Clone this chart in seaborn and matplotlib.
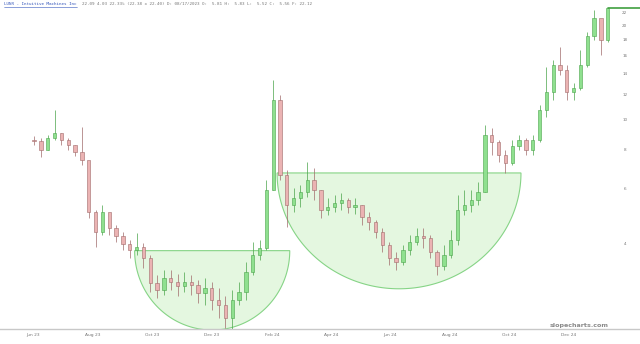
import numpy as np
import pandas as pd
import matplotlib
matplotlib.use("Agg")
import matplotlib.pyplot as plt
import matplotlib.dates as mdates
from matplotlib.lines import Line2D
import seaborn as sns

# ---- data (weekly candles) ----
ticker_title = "LUNR - Intuitive Machines Inc"
header_info = "22.09 4.03 22.33% (22.38 x 22.40) D: 08/17/2023 O:  5.81 H:  5.83 L:  5.52 C:  5.56 F: 22.12"
week_start = "2023-06-02"
first_open = 8.6
closes = [8.5, 7.97, 8.7, 9.0, 8.6, 8.27, 7.85, 7.40, 5.03, 4.34,
          5.03, 4.47, 4.21, 3.97, 3.80, 3.88, 3.58, 2.97, 2.82, 3.09,
          3.00, 2.91, 3.00, 2.93, 2.76, 2.87, 2.62, 2.53, 2.30, 2.62,
          2.78, 3.23, 3.66, 3.85, 5.93, 11.5, 6.62, 5.30, 5.58, 5.84,
          6.38, 5.93, 5.11, 5.22, 5.38, 5.50, 5.22, 5.30, 4.85, 4.67,
          4.34, 3.94, 3.58, 3.48, 3.80, 4.03, 4.21, 4.15, 3.74, 3.37,
          3.66, 4.09, 5.11, 5.30, 5.50, 5.84, 8.9, 8.45, 7.68, 7.24,
          8.2, 8.6, 7.97, 8.6, 10.7, 12.2, 15.0, 14.4, 12.2, 12.6,
          15.0, 18.5, 21.2, 18.0, 22.8]
highs = [8.84, 8.7, 8.9, 10.7, 9.0, 8.7, 8.27, 9.45, 7.13, 5.11,
         5.30, 4.92, 4.57, 4.34, 4.09, 4.31, 4.0, 3.66, 3.16, 3.27,
         3.27, 3.18, 3.23, 3.16, 3.04, 3.09, 3.00, 2.87, 2.70, 2.82,
         3.00, 3.48, 4.03, 4.09, 6.38, 13.4, 12.0, 6.87, 6.01, 6.15,
         7.29, 6.97, 5.93, 5.58, 5.71, 5.80, 5.58, 5.58, 5.30, 5.03,
         4.74, 4.47, 4.03, 3.74, 3.94, 4.24, 4.47, 4.47, 4.24, 3.80,
         3.94, 4.40, 5.71, 5.93, 5.93, 6.29, 9.6, 9.4, 8.6, 7.97,
         8.6, 8.9, 8.7, 8.9, 11.1, 14.7, 15.5, 17.1, 15.0, 13.1,
         16.7, 19.1, 22.5, 19.7, 22.8]
lows = [8.27, 7.56, 7.97, 8.6, 8.27, 7.97, 7.62, 7.13, 4.81, 3.88,
        4.24, 4.24, 4.03, 3.80, 3.58, 3.66, 3.32, 2.78, 2.66, 2.72,
        2.82, 2.70, 2.78, 2.72, 2.56, 2.53, 2.43, 2.30, 2.13, 2.08,
        2.53, 2.62, 3.16, 3.53, 3.80, 5.93, 6.38, 4.50, 5.03, 5.22,
        5.62, 5.50, 4.81, 4.92, 5.03, 5.11, 5.00, 4.96, 4.57, 4.40,
        4.15, 3.74, 3.40, 3.27, 3.40, 3.66, 3.94, 3.85, 3.58, 3.16,
        3.27, 3.58, 3.94, 4.92, 5.03, 5.30, 5.84, 7.68, 7.29, 6.72,
        7.13, 7.97, 7.68, 7.68, 8.45, 10.2, 11.5, 13.9, 11.5, 11.5,
        12.4, 14.7, 18.0, 16.1, 17.7]
last_price = 22.8
last_line_end = "2025-02-12"

# cup annotations: (start, end, rim price, bottom price)
cup_starts = ["2023-09-13", "2024-02-06"]
cup_ends = ["2024-02-19", "2024-10-13"]
cup_rims = [3.78, 6.72]
cup_bottoms = [2.10, 2.85]

y_ticks = [4, 6, 8, 10, 12, 14, 16, 18, 20, 22]
x_tick_dates = ["2023-06-01", "2023-08-01", "2023-10-01", "2023-12-01", "2024-02-01",
                "2024-04-01", "2024-06-01", "2024-08-01", "2024-10-01", "2024-12-01"]
x_lim = ("2023-04-28", "2025-02-12")
y_lim = (2.116, 23.48)

# ---- build frame ----
dates = pd.date_range(week_start, periods=len(closes), freq="W-FRI")
opens = [first_open] + closes[:-1]
df = pd.DataFrame({"date": dates, "open": opens, "high": highs, "low": lows, "close": closes})
df["up"] = df["close"] >= df["open"]

sns.set_theme(style="white")
plt.rcParams["font.family"] = ["DejaVu Sans"]

fig = plt.figure(figsize=(6.4, 3.44), dpi=100)
ax = fig.add_axes([0.0, 15 / 344, 1.0, 325 / 344])
ax.set_facecolor("white")
ax.set_yscale("log")

# cups
for s, e, rim, bot in zip(cup_starts, cup_ends, cup_rims, cup_bottoms):
    s_n = mdates.date2num(pd.Timestamp(s))
    e_n = mdates.date2num(pd.Timestamp(e))
    mid, half = (s_n + e_n) / 2, (e_n - s_n) / 2
    th = np.linspace(0, np.pi, 200)
    xs = mid + half * np.cos(th)
    ys = rim * (bot / rim) ** np.sin(th)
    ax.fill(xs, ys, facecolor="#e4f7e0", edgecolor="#86d486", lw=0.8, zorder=1)

# candles
xd = mdates.date2num(df["date"])
up_face, up_edge = "#8fe08f", "#4aa44a"
dn_face, dn_edge = "#ebb3b3", "#a06a6a"
for xi, o, h, l, c, u in zip(xd, df["open"], df["high"], df["low"], df["close"], df["up"]):
    edge = up_edge if u else dn_edge
    face = up_face if u else dn_face
    ax.vlines(xi, l, h, color=edge, lw=0.5, zorder=3)
    lo, hi = min(o, c), max(o, c)
    ax.bar(xi, hi - lo, bottom=lo, width=3.4, color=face, edgecolor=edge, lw=0.4, zorder=4)

# last price line
lp = pd.DataFrame({"date": [df["date"].iloc[-1], pd.Timestamp(last_line_end)],
                   "price": [last_price, last_price]})
sns.lineplot(data=lp, x="date", y="price", ax=ax, color="#3f9f3f", lw=1.2, zorder=5)

ax.set_xlim(pd.Timestamp(x_lim[0]), pd.Timestamp(x_lim[1]))
ax.set_ylim(*y_lim)
ax.set_xlabel("")
ax.set_ylabel("")

ax.set_xticks([pd.Timestamp(d) for d in x_tick_dates])
ax.xaxis.set_major_formatter(mdates.DateFormatter("%b %y"))
ax.yaxis.set_major_locator(matplotlib.ticker.FixedLocator(y_ticks))
ax.yaxis.set_minor_locator(matplotlib.ticker.NullLocator())
ax.yaxis.set_major_formatter(matplotlib.ticker.FixedFormatter([str(v) for v in y_ticks]))
ax.yaxis.tick_right()
ax.tick_params(axis="y", length=0, pad=-11, labelsize=3.0, labelcolor="#777777")
ax.tick_params(axis="x", length=0, pad=3, labelsize=3.2, labelcolor="#777777")
for lab in ax.get_yticklabels():
    lab.set_horizontalalignment("center")

for side in ["top", "left", "right"]:
    ax.spines[side].set_visible(False)
ax.spines["bottom"].set_color("#c8c8c8")
ax.spines["bottom"].set_linewidth(1.0)

# header
fig.text(4 / 640, 1 - 4 / 344, ticker_title, ha="left", va="center",
         fontsize=3.1, color="#3355bb", family="DejaVu Sans Mono")
fig.add_artist(Line2D([4 / 640, 77 / 640], [1 - 6.5 / 344, 1 - 6.5 / 344],
                      transform=fig.transFigure, color="#3355bb", lw=0.4))
fig.text(82 / 640, 1 - 4 / 344, header_info, ha="left", va="center",
         fontsize=3.1, color="#777777", family="DejaVu Sans Mono")

# watermark
fig.text(609 / 640, 1 - 326 / 344, "slopecharts.com", ha="right", va="center",
         fontsize=4.6, color="#8a8a8a", weight="bold")

fig.savefig("out.png", dpi=100)
